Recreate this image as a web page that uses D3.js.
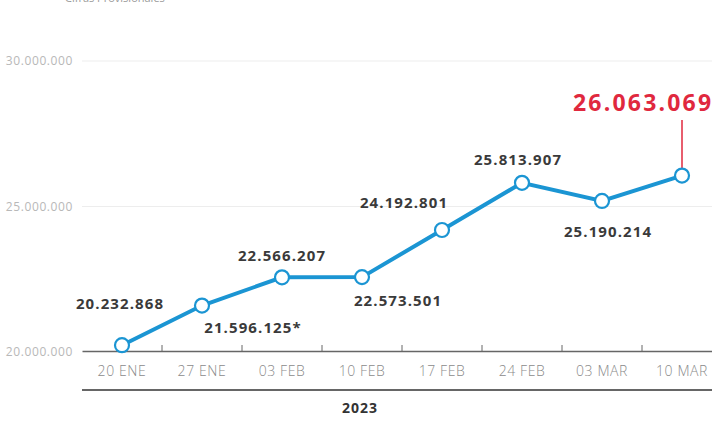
<!DOCTYPE html>
<html>
<head>
<meta charset="utf-8">
<script src="https://cdn.jsdelivr.net/npm/d3@7/dist/d3.min.js"></script>
<style>
  body { margin: 0; background: #fff; }
  svg { display: block; font-family: "Open Sans", sans-serif; }
</style>
</head>
<body>
<svg id="chart" width="712" height="424"></svg>
<script>
// semanas (eje x)
const weeks = ["20 ENE", "27 ENE", "03 FEB", "10 FEB", "17 FEB", "24 FEB", "03 MAR", "10 MAR"]
// afiliados por semana
const values = [20232868, 21596125, 22566207, 22573501, 24192801, 25813907, 25190214, 26063069]
const valueLabels = ["20.232.868", "21.596.125*", "22.566.207", "22.573.501", "24.192.801", "25.813.907", "25.190.214", "26.063.069"]
const yTicks = [20000000, 25000000, 30000000]

// label offsets (layout only)
const labelPos = [[-2, -36], [51, 27], [0, -16], [36, 29], [-38, -22], [-4, -18], [6, 36], [0, 0]]

const svg = d3.select("#chart")
const width = 712, height = 424
const axisY = 351

let x = d3.scaleBand()
  .domain(weeks)
  .range([82, 82 + 80 * weeks.length])
  .padding(0)

let y = d3.scaleLinear()
  .domain([20000000, 30000000])
  .range([352, 61])

let fmt = v => d3.format(",d")(v).replace(/,/g, ".")

// subtitle at top (cut off in the original)
svg.append("text")
  .attr("x", 65).attr("y", 2)
  .attr("fill", "#9a9a9a")
  .style("font-size", "11px")
  .text("Cifras Provisionales")

// grid
svg.append("g")
  .selectAll("line")
  .data(yTicks.slice(1))
  .enter().append("line")
  .attr("x1", 82).attr("x2", width)
  .attr("y1", d => y(d)).attr("y2", d => y(d))
  .attr("stroke", "#ededed")
  .attr("stroke-width", 1)

svg.append("g")
  .selectAll("text")
  .data(yTicks)
  .enter().append("text")
  .attr("x", 73)
  .attr("y", d => y(d) + 4)
  .attr("text-anchor", "end")
  .attr("fill", "#b8b8b8")
  .style("font-size", "12px")
  .style("letter-spacing", "0.6px")
  .text(d => fmt(d))

// x axis
let xAxis = d3.axisBottom(x).tickSize(0).tickPadding(15)
let gx = svg.append("g")
  .attr("transform", `translate(0,${axisY})`)
  .call(xAxis)
gx.select(".domain").attr("stroke", "#666").attr("stroke-width", 1.3)
gx.selectAll("text")
  .attr("fill", "#8a8a8a")
  .style("font-size", "14px")
  .style("font-family", "'Open Sans', sans-serif")
  .style("font-weight", "300")
  .style("letter-spacing", "0.6px")

// ticks at band boundaries
svg.append("g")
  .selectAll("line")
  .data(weeks.slice(1))
  .enter().append("line")
  .attr("x1", d => x(d)).attr("x2", d => x(d))
  .attr("y1", axisY - 6).attr("y2", axisY)
  .attr("stroke", "#666")

// lower rule + year
svg.append("line")
  .attr("x1", 82).attr("x2", width)
  .attr("y1", 390).attr("y2", 390)
  .attr("stroke", "#666").attr("stroke-width", 1.8)

svg.append("text")
  .attr("x", 360).attr("y", 413)
  .attr("text-anchor", "middle")
  .attr("fill", "#333")
  .style("font-size", "14px")
  .style("font-weight", "700")
  .style("letter-spacing", "1px")
  .text("2023")

let cx = d => x(d) + x.bandwidth() / 2

// line
let line = d3.line()
  .x((d, i) => cx(weeks[i]))
  .y(d => y(d))

svg.append("path")
  .datum(values)
  .attr("d", line)
  .attr("fill", "none")
  .attr("stroke", "#1b95d3")
  .attr("stroke-width", 4)

// highlight stem
const last = values.length - 1
svg.append("line")
  .attr("x1", cx(weeks[last])).attr("x2", cx(weeks[last]))
  .attr("y1", 120).attr("y2", y(values[last]))
  .attr("stroke", "#e0283e").attr("stroke-width", 1.5)

svg.append("g")
  .selectAll("circle")
  .data(values)
  .enter().append("circle")
  .attr("cx", (d, i) => cx(weeks[i]))
  .attr("cy", d => y(d))
  .attr("r", 7)
  .attr("fill", "#fff")
  .attr("stroke", "#1b95d3")
  .attr("stroke-width", 2.2)

// value labels
svg.append("g")
  .selectAll("text")
  .data(values.slice(0, last))
  .enter().append("text")
  .attr("x", (d, i) => cx(weeks[i]) + labelPos[i][0])
  .attr("y", (d, i) => y(d) + labelPos[i][1])
  .attr("text-anchor", "middle")
  .attr("fill", "#3a3a3a")
  .style("font-size", "15px")
  .style("font-weight", "700")
  .style("letter-spacing", "1.1px")
  .text((d, i) => valueLabels[i])

svg.append("text")
  .attr("x", 573).attr("y", 111)
  .attr("fill", "#e0283e")
  .style("font-size", "23px")
  .style("font-weight", "700")
  .style("letter-spacing", "2.2px")
  .text(valueLabels[last])
</script>
</body>
</html>
